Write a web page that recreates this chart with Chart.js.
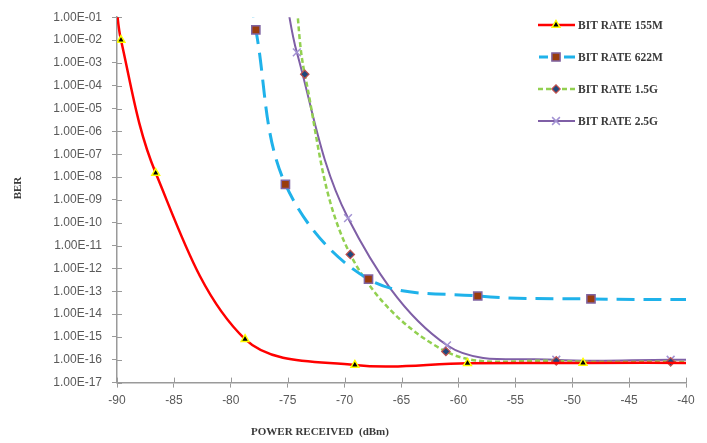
<!DOCTYPE html>
<html><head><meta charset="utf-8">
<script src="https://cdn.jsdelivr.net/npm/chart.js@4.4.1/dist/chart.umd.min.js"></script>
<style>html,body{margin:0;padding:0;background:#fff;}canvas{display:block;}</style>
</head><body>
<canvas id="c" width="707" height="443"></canvas>
<script>
const seriesNames = ['BIT RATE 155M', 'BIT RATE 622M', 'BIT RATE 1.5G', 'BIT RATE 2.5G'];
// received power (dBm) / BER. First and last entries run past the axes (clipped, unmarked).
const x155  = [-90.15, -89.65, -86.6, -78.75, -69.1, -59.2, -49.05, -38];
const ber155 = [1.0, 1.0e-2, 1.5e-8, 8.0e-16, 5.9e-17, 7.1e-17, 7.3e-17, 7.3e-17];
const x622  = [-78.2, -77.8, -75.2, -67.9, -58.3, -48.35, -38];
const ber622 = [0.6, 2.8e-2, 4.8e-9, 3.4e-13, 6.2e-14, 4.6e-14, 4.3e-14];
const x15G  = [-74.3, -73.5, -69.5, -61.1, -51.4, -41.35, -38];
const ber15G = [1.0, 3.2e-4, 4.1e-12, 2.3e-16, 8.9e-17, 8.1e-17, 8.1e-17];
const x25G  = [-75.2, -74.2, -69.7, -61.0, -51.4, -41.35, -38];
const ber25G = [1.0, 2.9e-3, 1.6e-10, 4.3e-16, 1.0e-16, 1.0e-16, 1.0e-16];

const xTickValues = [-90, -85, -80, -75, -70, -65, -60, -55, -50, -45, -40];
const yExponents = [-1, -2, -3, -4, -5, -6, -7, -8, -9, -10, -11, -12, -13, -14, -15, -16, -17];
const yTickLabels = ['1.00E-01','1.00E-02','1.00E-03','1.00E-04','1.00E-05','1.00E-06','1.00E-07','1.00E-08','1.00E-09',
  '1.00E-10','1.00E-11','1.00E-12','1.00E-13','1.00E-14','1.00E-15','1.00E-16','1.00E-17'];
const xTitle = 'POWER RECEIVED  (dBm)';
const yTitle = 'BER';

const X_MIN = -90, X_MAX = -40, Y_MIN = 1e-17, Y_MAX = 1e-1;
const pts = (xs, ys) => xs.map((x, i) => ({x: x, y: ys[i]}));
const radiusIn = r => (ctx => { const p = ctx.raw; return (p && p.x >= X_MIN && p.x <= X_MAX && p.y <= Y_MAX) ? r : 0; });

const styles = [
  {borderColor: '#FF0000', borderWidth: 2.5, borderDash: [], pointStyle: 'triangle', pr: 4.5,
   pointBackgroundColor: '#000000', pointBorderColor: '#FFFF00', pointBorderWidth: 1.5},
  {borderColor: '#1FB2EA', borderWidth: 3, borderDash: [18, 9], pointStyle: 'rect', pr: 5.8,
   pointBackgroundColor: '#9A3C0C', pointBorderColor: '#8064A2', pointBorderWidth: 1.5},
  {borderColor: '#92D050', borderWidth: 2.5, borderDash: [5, 3], pointStyle: 'rectRot', pr: 4.2,
   pointBackgroundColor: '#1F497D', pointBorderColor: '#C0504D', pointBorderWidth: 1.2},
  {borderColor: '#7F5FA6', borderWidth: 2, borderDash: [], pointStyle: 'crossRot', pr: 5.5,
   pointBackgroundColor: '#A393D3', pointBorderColor: '#A393D3', pointBorderWidth: 1.5}
];
const dataSets = [pts(x155, ber155), pts(x622, ber622), pts(x15G, ber15G), pts(x25G, ber25G)];

const innerTicks = {
  id: 'innerTicks',
  beforeDatasetsDraw(chart) {
    const {ctx, chartArea: a, scales: {x, y}} = chart;
    ctx.save();
    ctx.strokeStyle = '#9A9A9A'; ctx.lineWidth = 1;
    ctx.beginPath();
    x.ticks.forEach(t => { const px = Math.round(x.getPixelForValue(t.value)) + 0.5; ctx.moveTo(px, a.bottom); ctx.lineTo(px, a.bottom - 5); });
    y.ticks.forEach(t => { const py = Math.round(y.getPixelForValue(t.value)) + 0.5; ctx.moveTo(a.left, py); ctx.lineTo(a.left + 5, py); });
    ctx.stroke();
    ctx.restore();
  }
};

const decorations = {
  id: 'decorations',
  afterDraw(chart) {
    const ctx = chart.ctx;
    ctx.save();
    // axis titles
    ctx.fillStyle = '#3A3A3A';
    ctx.font = 'bold 11px "Liberation Serif", serif';
    ctx.textAlign = 'center'; ctx.textBaseline = 'middle';
    ctx.fillText(xTitle, 320, 432);
    ctx.save();
    ctx.translate(18, 188); ctx.rotate(-Math.PI / 2);
    ctx.fillText(yTitle, 0, 0);
    ctx.restore();
    // legend
    const ys = [25, 57, 89, 121];
    chart.data.datasets.forEach((ds, i) => {
      const st = styles[i];
      const y = ys[i];
      ctx.save();
      ctx.strokeStyle = st.borderColor; ctx.lineWidth = st.borderWidth;
      ctx.beginPath();
      if (i === 1) {
        ctx.moveTo(539, y); ctx.lineTo(548, y);
        ctx.moveTo(564, y); ctx.lineTo(575, y);
      } else {
        ctx.setLineDash(st.borderDash);
        ctx.moveTo(538, y); ctx.lineTo(575, y);
      }
      ctx.stroke();
      ctx.restore();
      ctx.save();
      ctx.fillStyle = st.pointBackgroundColor; ctx.strokeStyle = st.pointBorderColor; ctx.lineWidth = st.pointBorderWidth;
      Chart.helpers.drawPoint(ctx, {pointStyle: st.pointStyle, radius: st.pr, rotation: 0, borderWidth: st.pointBorderWidth}, 556, y);
      ctx.restore();
      ctx.fillStyle = '#3A3A3A';
      ctx.font = 'bold 11.5px "Liberation Serif", serif';
      ctx.textAlign = 'left'; ctx.textBaseline = 'middle';
      ctx.fillText(seriesNames[i], 578, y + 1);
    });
    ctx.restore();
  }
};

new Chart(document.getElementById('c'), {
  type: 'line',
  data: {
    datasets: dataSets.map((d, i) => {
      const st = styles[i];
      return {
        label: seriesNames[i], data: d,
        borderColor: st.borderColor, borderWidth: st.borderWidth, borderDash: st.borderDash,
        pointStyle: st.pointStyle, pointRadius: radiusIn(st.pr),
        pointBackgroundColor: st.pointBackgroundColor, pointBorderColor: st.pointBorderColor,
        pointBorderWidth: st.pointBorderWidth, fill: false, tension: 0.35
      };
    })
  },
  options: {
    responsive: false, animation: false, events: [], devicePixelRatio: 1,
    layout: {padding: {left: 0, right: 21, top: 14, bottom: 0}},
    elements: {line: {capBezierPoints: false}},
    plugins: {legend: {display: false}, tooltip: {enabled: false}},
    scales: {
      x: {
        type: 'linear', min: X_MIN, max: X_MAX,
        afterBuildTicks: s => { s.ticks = xTickValues.map(v => ({value: v})); },
        afterFit: s => { s.height = 443 - 382.6; },
        grid: {drawOnChartArea: false, drawTicks: true, tickLength: 5, color: '#9A9A9A'},
        border: {display: true, color: '#9A9A9A', width: 1.5},
        ticks: {color: '#595959', font: {family: '"Liberation Sans", sans-serif', size: 12}, padding: 6, maxRotation: 0,
          callback: v => String(v)}
      },
      y: {
        type: 'logarithmic', min: Y_MIN, max: Y_MAX,
        afterBuildTicks: s => { s.ticks = yExponents.slice().reverse().map(e => ({value: Math.pow(10, e)})); },
        afterFit: s => { s.width = 117; },
        grid: {drawOnChartArea: false, drawTicks: true, tickLength: 5, color: '#9A9A9A'},
        border: {display: true, color: '#9A9A9A', width: 1.5},
        ticks: {color: '#595959', font: {family: '"Liberation Sans", sans-serif', size: 12}, padding: 10,
          callback: v => { const e = Math.round(Math.log10(v)); const k = yExponents.indexOf(e); return k >= 0 ? yTickLabels[k] : ''; }}
      }
    }
  },
  plugins: [innerTicks, decorations]
});
</script>
</body></html>
